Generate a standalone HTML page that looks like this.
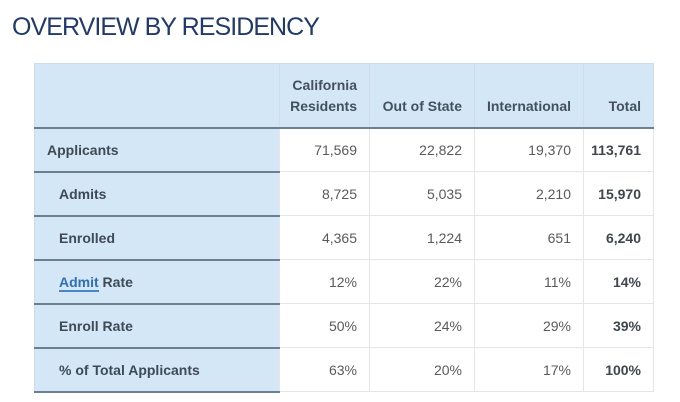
<!DOCTYPE html>
<html><head><meta charset="utf-8"><style>
*{margin:0;padding:0;box-sizing:border-box}
body{width:680px;height:402px;background:#fff;position:relative;overflow:hidden;font-family:"Liberation Sans",sans-serif}
h1{position:absolute;left:12px;top:15px;font-size:25px;line-height:25px;font-weight:normal;color:#213a6b;letter-spacing:-0.95px;white-space:nowrap}
table{position:absolute;left:34px;top:63px;border-collapse:collapse;table-layout:fixed;width:619px}
td,th{font-size:14px;color:#5a5a5a;text-align:right;padding:0 12px 0 0;border:1px solid #e6e6e6;height:44px;vertical-align:middle;white-space:nowrap}
thead th{background:#d4e7f6;height:64px;vertical-align:bottom;padding-bottom:10px;line-height:21px;color:#44505c;font-weight:bold;border:1px solid #d0dde8;border-left-color:#eef5fb;border-bottom:2px solid #6b8193}
thead th:first-child{border-left-color:#d0dde8}
td.l{background:#d4e7f6;text-align:left;padding-left:24px;color:#3f4a55;font-weight:bold;border-bottom:2px solid #6b8193;border-left:1px solid #d0dde8}
td.l.top{padding-left:12px}
td.t{font-weight:bold;color:#3f464d}
a{color:#2f6fb7;text-decoration:none;border-bottom:2px solid #4a85c8}
</style></head><body>
<h1>OVERVIEW BY RESIDENCY</h1>
<table>
<colgroup><col style="width:245px"><col style="width:90px"><col style="width:105px"><col style="width:109px"><col style="width:70px"></colgroup>
<thead><tr><th></th><th>California<br>Residents</th><th>Out of State</th><th>International</th><th>Total</th></tr></thead>
<tbody>
<tr><td class="l top">Applicants</td><td>71,569</td><td>22,822</td><td>19,370</td><td class="t">113,761</td></tr>
<tr><td class="l">Admits</td><td>8,725</td><td>5,035</td><td>2,210</td><td class="t">15,970</td></tr>
<tr><td class="l">Enrolled</td><td>4,365</td><td>1,224</td><td>651</td><td class="t">6,240</td></tr>
<tr><td class="l"><a>Admit</a> Rate</td><td>12%</td><td>22%</td><td>11%</td><td class="t">14%</td></tr>
<tr><td class="l">Enroll Rate</td><td>50%</td><td>24%</td><td>29%</td><td class="t">39%</td></tr>
<tr><td class="l">% of Total Applicants</td><td>63%</td><td>20%</td><td>17%</td><td class="t">100%</td></tr>
</tbody></table>
</body></html>
